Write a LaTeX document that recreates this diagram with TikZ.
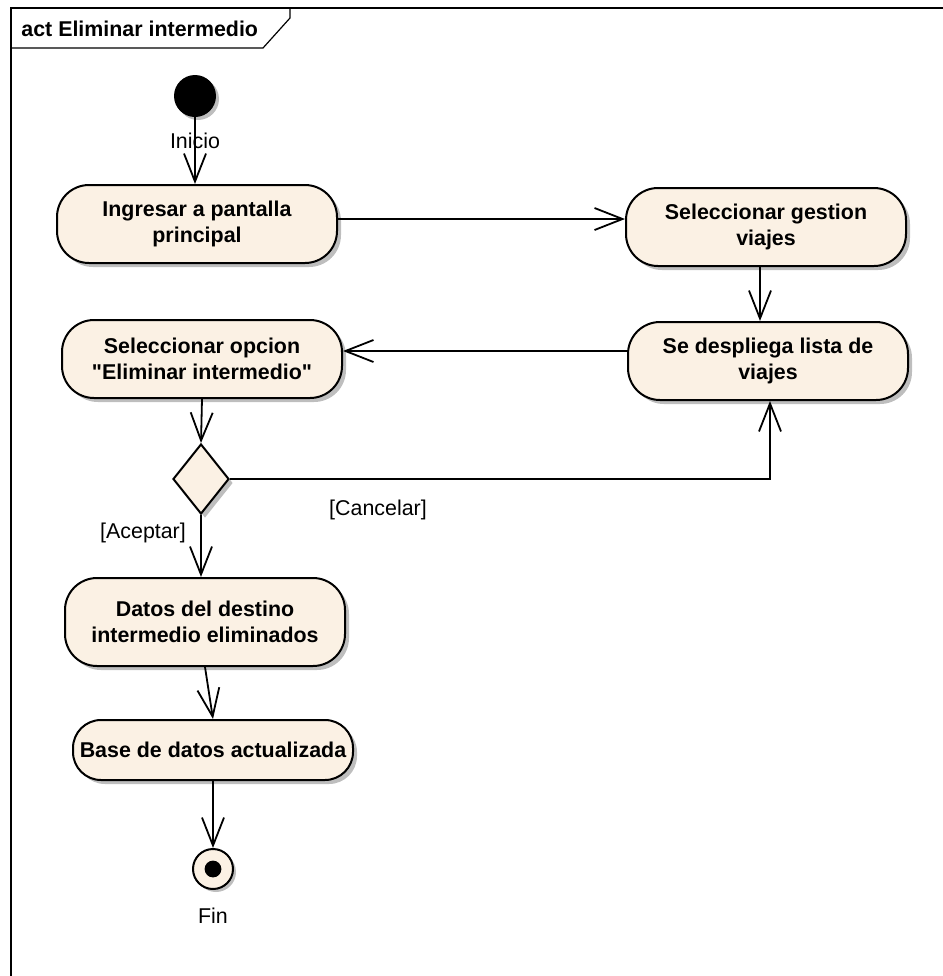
\documentclass[tikz,border=0pt]{standalone}
\usepackage{fontspec}
\setmainfont{Liberation Sans}
\usetikzlibrary{shapes.geometric,arrows.meta,shadows}
\definecolor{actfill}{RGB}{251,241,228}
\definecolor{shadowgray}{RGB}{190,190,190}

\begin{document}
\begin{tikzpicture}[
  x=0.5pt,y=-0.5pt,
  act/.style={draw,line width=1pt,fill=actfill,rounded corners=16pt,
              minimum width=140pt,minimum height=39pt,align=center,inner sep=1pt,
              font=\fontsize{10.7}{13}\selectfont\bfseries,
              drop shadow={shadow xshift=2pt,shadow yshift=-2pt,fill=shadowgray,opacity=1}},
  decision/.style={diamond,draw,line width=1pt,fill=actfill,inner sep=0pt,
              minimum width=28pt,minimum height=35pt,
              drop shadow={shadow xshift=2pt,shadow yshift=-2pt,fill=shadowgray,opacity=1}},
  arr/.style={-{Straight Barb[length=14pt,width=11pt]},line width=0.9pt},
  guard/.style={font=\fontsize{10.7}{13}\selectfont}
]
\useasboundingbox (0,0) rectangle (943,976);

% frame
\draw[line width=0.8pt] (11,976) -- (11,8) -- (943,8);
\draw[line width=0.6pt] (11,48) -- (263,48) -- (290,18) -- (290,8);
\node[anchor=west,inner sep=0pt,font=\fontsize{10.7}{13}\selectfont\bfseries] (title) at (21,29) {act Eliminar intermedio};

% nodes
\node[circle,fill=black,minimum size=21pt,inner sep=0pt,
      drop shadow={shadow xshift=1.5pt,shadow yshift=-1.5pt,fill=shadowgray,opacity=1}] (start) at (195,96) {};
\node[act] (ingresar)  at (197,224) {Ingresar a pantalla\\principal};
\node[act] (gestion)   at (766,227) {Seleccionar gestion\\viajes};
\node[act] (despliega) at (768,361) {Se despliega lista de\\viajes};
\node[act] (opcion)    at (202,359) {Seleccionar opcion\\\textquotedbl Eliminar intermedio\textquotedbl};
\node[decision] (dec)  at (201,479) {};
\node[act,minimum height=44pt] (datos) at (205,622) {Datos del destino\\intermedio eliminados};
\node[act,minimum height=30pt,rounded corners=14pt] (base) at (213,750) {Base de datos actualizada};
\node[circle,draw,line width=1pt,fill=actfill,minimum size=20pt,inner sep=0pt,
      drop shadow={shadow xshift=1.5pt,shadow yshift=-1.5pt,fill=shadowgray,opacity=1},
      path picture={\fill[black] (path picture bounding box.center) circle (4.2pt);}] (fin) at (213,869) {};

% labels
\node[guard] (inicio) at (195,141) {Inicio};
\node[guard] (aceptar) at (143,533) {[Aceptar]};
\node[guard] (cancelar) at (378,510) {[Cancelar]};
\node[guard] (finlbl) at (213,916) {Fin};

% flows
\draw[arr] (start) -- (start |- ingresar.north);
\draw[arr] ([yshift=2.5pt]ingresar.east) -- ([yshift=2.5pt]ingresar.east -| gestion.west);
\draw[arr] ([xshift=-3pt]gestion.south) -- ([xshift=-3pt]gestion.south |- despliega.north);
\draw[arr] ([yshift=5pt]despliega.west) -- ([yshift=5pt]despliega.west -| opcion.east);
\draw[arr] (opcion.south) -- (dec.north);
\draw[arr] (dec.east) -| ([xshift=1pt]despliega.south);
\draw[arr] (dec.south) -- (dec.south |- datos.north);
\draw[arr] (datos.south) -- (base.north);
\draw[arr] (base.south) -- (fin.north);
\end{tikzpicture}
\end{document}
